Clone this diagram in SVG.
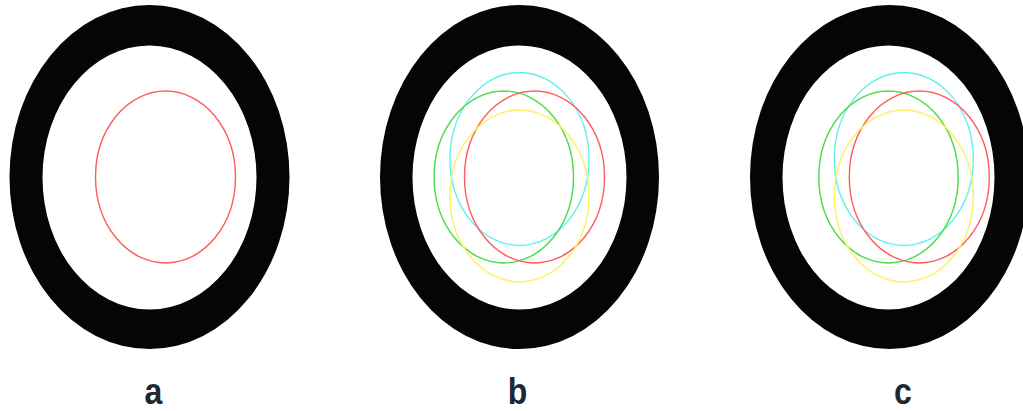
<svg xmlns="http://www.w3.org/2000/svg" width="1023" height="411" viewBox="0 0 1023 411">
<style>
.ring{fill:#050505;fill-rule:evenodd}
.c{fill:none;stroke-width:1.4}
.r{stroke:#ff5c5c}
.cy{stroke:#62eef2}
.g{stroke:#48dd48}
.y{stroke:#fff060}
.lbl{font-family:"Liberation Sans",Arial,sans-serif;font-weight:bold;font-size:32px;fill:#1e2833;text-anchor:middle}
</style>
<rect width="1023" height="411" fill="#fff"/>
<g id="panel-a">
<path class="ring" d="M9.5,177a140,172 0 1,0 280,0a140,172 0 1,0 -280,0Z M42.5,177.5a107,132 0 1,0 214,0a107,132 0 1,0 -214,0Z"/>
<ellipse class="c r" cx="165.5" cy="177" rx="70" ry="86"/>
<text class="lbl" transform="translate(153.5,403.5) scale(1,1.15)">a</text>
</g>
<g id="panel-b">
<path class="ring" d="M380,177a139.5,172 0 1,0 279,0a139.5,172 0 1,0 -279,0Z M412.5,177.5a107,132 0 1,0 214,0a107,132 0 1,0 -214,0Z"/>
<ellipse class="c cy" cx="519.5" cy="159" rx="69.5" ry="86.5"/>
<ellipse class="c g" cx="503.8" cy="177" rx="69.7" ry="86"/>
<ellipse class="c r" cx="534.5" cy="177" rx="70" ry="86"/>
<ellipse class="c y" cx="519.5" cy="196" rx="69.5" ry="86"/>
<text class="lbl" transform="translate(517.5,403.5) scale(1,1.15)">b</text>
</g>
<g id="panel-c">
<path class="ring" d="M750,177a139.5,172 0 1,0 279,0a139.5,172 0 1,0 -279,0Z M782.5,177.5a106,132 0 1,0 212,0a106,132 0 1,0 -212,0Z"/>
<ellipse class="c cy" cx="903.8" cy="159" rx="69.5" ry="86.5"/>
<ellipse class="c g" cx="888.5" cy="177" rx="69.7" ry="86"/>
<ellipse class="c r" cx="919.3" cy="177" rx="70" ry="86"/>
<ellipse class="c y" cx="903.8" cy="196" rx="69.5" ry="86"/>
<text class="lbl" transform="translate(903,403.5) scale(1,1.15)">c</text>
</g>
<g id="connectors"/>
</svg>
